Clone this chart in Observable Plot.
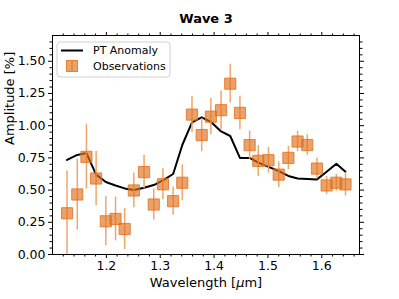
<!DOCTYPE html>
<html>
<head>
<meta charset="utf-8">
<script src="https://cdn.jsdelivr.net/npm/d3@7"></script>
<script src="https://cdn.jsdelivr.net/npm/@observablehq/plot@0.6"></script>
<style>
  body { margin: 0; background: white; }
  svg { display: block; }
</style>
</head>
<body>
<script>
const wavelength = [1.127, 1.146, 1.163, 1.181, 1.199, 1.217, 1.234, 1.251, 1.270, 1.288, 1.305, 1.324, 1.341, 1.359, 1.377, 1.394, 1.413, 1.430, 1.448, 1.466, 1.482, 1.501, 1.520, 1.538, 1.555, 1.573, 1.591, 1.609, 1.627, 1.644];
const observed = [0.32, 0.466, 0.758, 0.59, 0.258, 0.276, 0.198, 0.497, 0.64, 0.388, 0.545, 0.414, 0.557, 1.086, 0.927, 1.07, 1.12, 1.326, 1.099, 0.849, 0.727, 0.732, 0.62, 0.75, 0.877, 0.85, 0.667, 0.536, 0.557, 0.544];
const obsError = [0.33, 0.275, 0.25, 0.21, 0.19, 0.17, 0.16, 0.135, 0.13, 0.12, 0.12, 0.11, 0.14, 0.14, 0.13, 0.14, 0.15, 0.15, 0.13, 0.11, 0.12, 0.10, 0.10, 0.09, 0.08, 0.08, 0.08, 0.07, 0.065, 0.09];
const ptAnomaly = [0.734, 0.773, 0.787, 0.62, 0.5625, 0.536, 0.513, 0.50, 0.518, 0.539, 0.575, 0.625, 0.85, 1.026, 1.065, 1.03, 0.955, 0.92, 0.75, 0.75, 0.713, 0.68, 0.648, 0.61, 0.59, 0.586, 0.583, 0.643, 0.705, 0.643];

const xMajor = [1.2, 1.3, 1.4, 1.5, 1.6];
const xMinor = [1.12, 1.14, 1.16, 1.18, 1.22, 1.24, 1.26, 1.28, 1.32, 1.34, 1.36, 1.38, 1.42, 1.44, 1.46, 1.48, 1.52, 1.54, 1.56, 1.58, 1.62, 1.64, 1.66];
const yMajor = [0, 0.25, 0.5, 0.75, 1.0, 1.25, 1.5];
const yMinor = [0.05, 0.1, 0.15, 0.2, 0.3, 0.35, 0.4, 0.45, 0.55, 0.6, 0.65, 0.7, 0.8, 0.85, 0.9, 0.95, 1.05, 1.1, 1.15, 1.2, 1.3, 1.35, 1.4, 1.45, 1.55, 1.6, 1.65];

const titleText = "Wave 3";
const xLabel = "Wavelength [μm]";
const yLabel = "Amplitude [%]";
const seriesNames = ["PT Anomaly", "Observations"];

const data = wavelength.map((w, i) => ({w, obs: observed[i], err: obsError[i], pt: ptAnomaly[i]}));

const orange = "#e0701a";
const errColor = "#f0a56e";
const font = "DejaVu Sans, sans-serif";

function legend(index, scales, values, dims) {
  const g = d3.create("svg:g").attr("font-family", font).attr("font-size", 11).attr("text-anchor", "start");
  const x0 = dims.marginLeft, y0 = dims.marginTop;
  g.append("rect").attr("x", x0 + 5).attr("y", y0 + 7).attr("width", 113).attr("height", 35)
    .attr("rx", 3).attr("fill", "white").attr("fill-opacity", 0.8).attr("stroke", "#d0d0d0");
  g.append("line").attr("x1", x0 + 9).attr("x2", x0 + 31).attr("y1", y0 + 15.5).attr("y2", y0 + 15.5)
    .attr("stroke", "black").attr("stroke-width", 2);
  g.append("text").attr("x", x0 + 41).attr("y", y0 + 15.5).attr("dy", "0.35em").attr("text-anchor", "start").attr("fill", "black").text(seriesNames[0]);
  g.append("line").attr("x1", x0 + 20).attr("x2", x0 + 20).attr("y1", y0 + 25.5).attr("y2", y0 + 36.5)
    .attr("stroke", errColor).attr("stroke-width", 1.5);
  g.append("rect").attr("x", x0 + 14.5).attr("y", y0 + 25.5).attr("width", 11).attr("height", 11)
    .attr("fill", orange).attr("fill-opacity", 0.65).attr("stroke", orange).attr("stroke-opacity", 0.8);
  g.append("text").attr("x", x0 + 41).attr("y", y0 + 31).attr("dy", "0.35em").attr("text-anchor", "start").attr("fill", "black").text(seriesNames[1]);
  return g.node();
}

const chart = Plot.plot({
  width: 399,
  height: 299,
  marginLeft: 52,
  marginRight: 40,
  marginTop: 35,
  marginBottom: 45,
  style: {fontFamily: font, fontSize: "12.5px", color: "black", background: "white"},
  x: {domain: [1.1, 1.67]},
  y: {domain: [0, 1.7]},
  marks: [
    Plot.axisX(xMajor, {anchor: "bottom", tickSize: 4, tickPadding: 3, tickFormat: d => d.toFixed(1), label: null}),
    Plot.axisX(xMinor, {anchor: "bottom", tickSize: 2.5, fill: "none", label: null}),
    Plot.axisX(xMajor, {anchor: "top", tickSize: 4, fill: "none", label: null}),
    Plot.axisX(xMinor, {anchor: "top", tickSize: 2.5, fill: "none", label: null}),
    Plot.axisY(yMajor, {anchor: "left", tickSize: 4, tickPadding: 3, tickFormat: d => d.toFixed(2), label: null}),
    Plot.axisY(yMinor, {anchor: "left", tickSize: 2.5, fill: "none", label: null}),
    Plot.axisY(yMajor, {anchor: "right", tickSize: 4, fill: "none", label: null}),
    Plot.axisY(yMinor, {anchor: "right", tickSize: 2.5, fill: "none", label: null}),
    Plot.line(data, {x: "w", y: "pt", stroke: "black", strokeWidth: 2}),
    Plot.ruleX(data, {x: "w", y1: d => d.obs - d.err, y2: d => d.obs + d.err, stroke: errColor, strokeWidth: 1.5}),
    Plot.dot(data, {x: "w", y: "obs", symbol: "square", r: 6.3, fill: orange, fillOpacity: 0.65, stroke: orange, strokeOpacity: 0.8, strokeWidth: 1}),
    Plot.frame({stroke: "black", strokeWidth: 1}),
    Plot.text([titleText], {frameAnchor: "top", dy: -17, fontWeight: "bold", fontSize: 13, fill: "black", lineAnchor: "middle"}),
    Plot.text([xLabel], {frameAnchor: "bottom", dy: 28, fontSize: 13, fill: "black", lineAnchor: "middle"}),
    Plot.text([yLabel], {frameAnchor: "left", dx: -43, rotate: -90, fontSize: 13, fill: "black", lineAnchor: "middle"}),
    legend
  ]
});
document.body.appendChild(chart);

// italic mu as in mathtext
d3.select(chart).selectAll("text").filter(function() { return this.textContent === xLabel; }).each(function() {
  const t = d3.select(this);
  t.text(null);
  t.append("tspan").text("Wavelength [");
  t.append("tspan").attr("font-style", "italic").text("μ");
  t.append("tspan").text("m]");
});
</script>
</body>
</html>
